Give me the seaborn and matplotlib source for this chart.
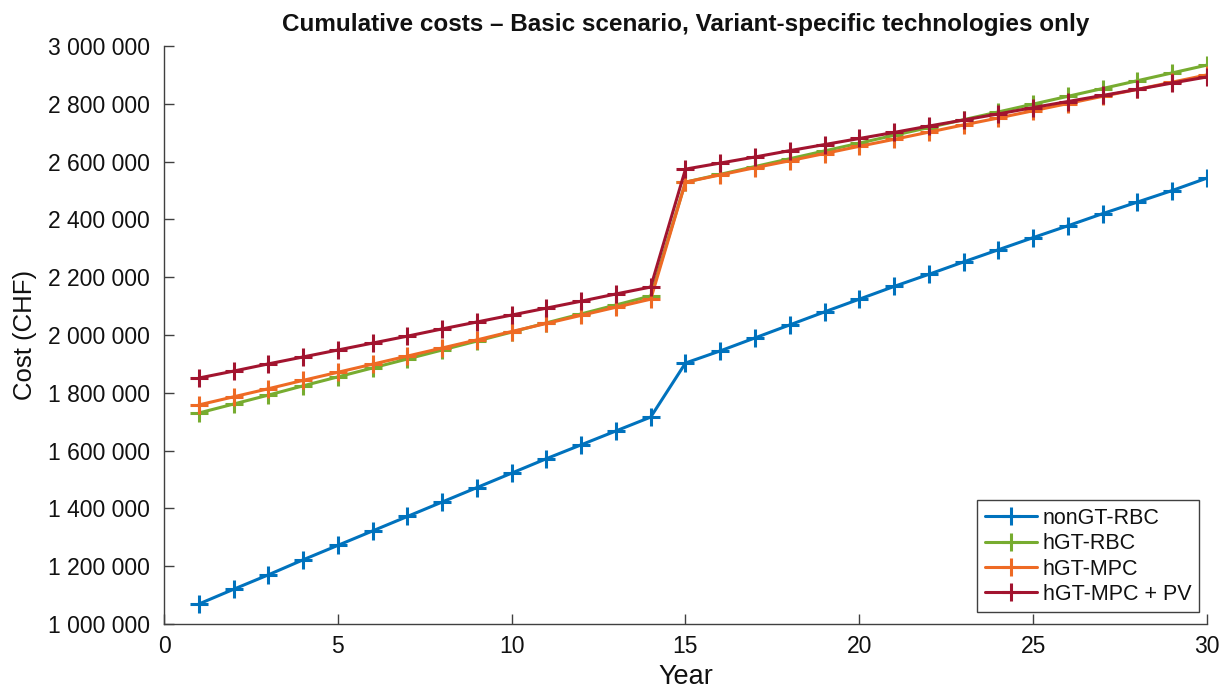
import numpy as np
import pandas as pd
import matplotlib
matplotlib.use("Agg")
import matplotlib.pyplot as plt
from matplotlib.ticker import FuncFormatter
import seaborn as sns

years = list(range(1, 31))

# Cumulative costs in CHF (thousands)
nongt_rbc = [1069, 1120, 1170, 1222, 1272, 1322, 1372, 1422, 1472, 1522, 1572, 1620, 1668, 1716,
             1903, 1945, 1990, 2035, 2080, 2124, 2168, 2210, 2253, 2295, 2337, 2378, 2420, 2460, 2500, 2543]
hgt_rbc = [1730, 1761, 1792, 1824, 1855, 1886, 1917, 1948, 1979, 2010, 2042, 2073, 2104, 2135,
           2529, 2556, 2583, 2610, 2637, 2664, 2691, 2718, 2745, 2772, 2799, 2826, 2853, 2880, 2907, 2934]
hgt_mpc = [1758, 1786, 1814, 1843, 1871, 1899, 1927, 1955, 1983, 2012, 2040, 2068, 2096, 2124,
           2529, 2554, 2579, 2603, 2628, 2653, 2677, 2702, 2727, 2751, 2776, 2801, 2826, 2850, 2875, 2900]
hgt_mpc_pv = [1851, 1875, 1900, 1924, 1948, 1972, 1996, 2021, 2045, 2069, 2093, 2117, 2142, 2166,
              2574, 2595, 2616, 2638, 2659, 2680, 2701, 2723, 2744, 2765, 2787, 2808, 2829, 2850, 2872, 2893]

series_names = ["nonGT-RBC", "hGT-RBC", "hGT-MPC", "hGT-MPC + PV"]
series_values = [nongt_rbc, hgt_rbc, hgt_mpc, hgt_mpc_pv]
colors = ["#0072BD", "#77AC30", "#EE6A24", "#A2142F"]

sns.set_theme(style="white")
plt.rcParams["font.family"] = ["Liberation Sans", "DejaVu Sans"]
plt.rcParams["xtick.direction"] = "in"
plt.rcParams["ytick.direction"] = "in"

fig = plt.figure(figsize=(12.23, 6.9), dpi=100)
ax = fig.add_axes([0.1341, 0.0957, 0.8528, 0.8376])

for name, vals, col in zip(series_names, series_values, colors):
    df = pd.DataFrame({"Year": years, "Cost": np.array(vals) * 1000})
    sns.lineplot(data=df, x="Year", y="Cost", ax=ax, color=col, label=name,
                 linewidth=2.2, marker="+", markersize=13, markeredgewidth=2.2,
                 markeredgecolor=col)

ax.set_xlim(0, 30)
ax.set_ylim(1_000_000, 3_000_000)
ax.set_xticks(range(0, 31, 5))
ax.set_yticks(range(1_000_000, 3_000_001, 200_000))
ax.yaxis.set_major_formatter(FuncFormatter(lambda v, p: f"{int(round(v)):,}".replace(",", " ")))

for side in ["top", "right"]:
    ax.spines[side].set_visible(False)
for side in ["left", "bottom"]:
    ax.spines[side].set_color("#404040")
    ax.spines[side].set_linewidth(1)
ax.tick_params(axis="both", direction="in", length=7, width=1, colors="#404040",
               labelsize=16.5, labelcolor="#111111", left=True, bottom=True)
ax.tick_params(axis="x", pad=8)
ax.tick_params(axis="y", pad=10)

ax.set_xlabel("Year", fontsize=19.5, color="#111111", labelpad=4)
ax.set_ylabel("Cost (CHF)", fontsize=18.5, color="#111111", labelpad=8)
ax.set_title("Cumulative costs \u2013 Basic scenario, Variant-specific technologies only",
             fontsize=17.5, fontweight="bold", color="#111111", pad=11)

leg = ax.legend(loc="lower right", fontsize=15.5, frameon=True, fancybox=False,
                edgecolor="#404040", framealpha=1, handlelength=2.4, handletextpad=0.3,
                borderpad=0.35, labelspacing=0.2, borderaxespad=0,
                bbox_to_anchor=(0.9925, 0.02))
leg.get_frame().set_linewidth(1)
for t in leg.get_texts():
    t.set_color("#111111")

fig.savefig("out.png", dpi=100)
